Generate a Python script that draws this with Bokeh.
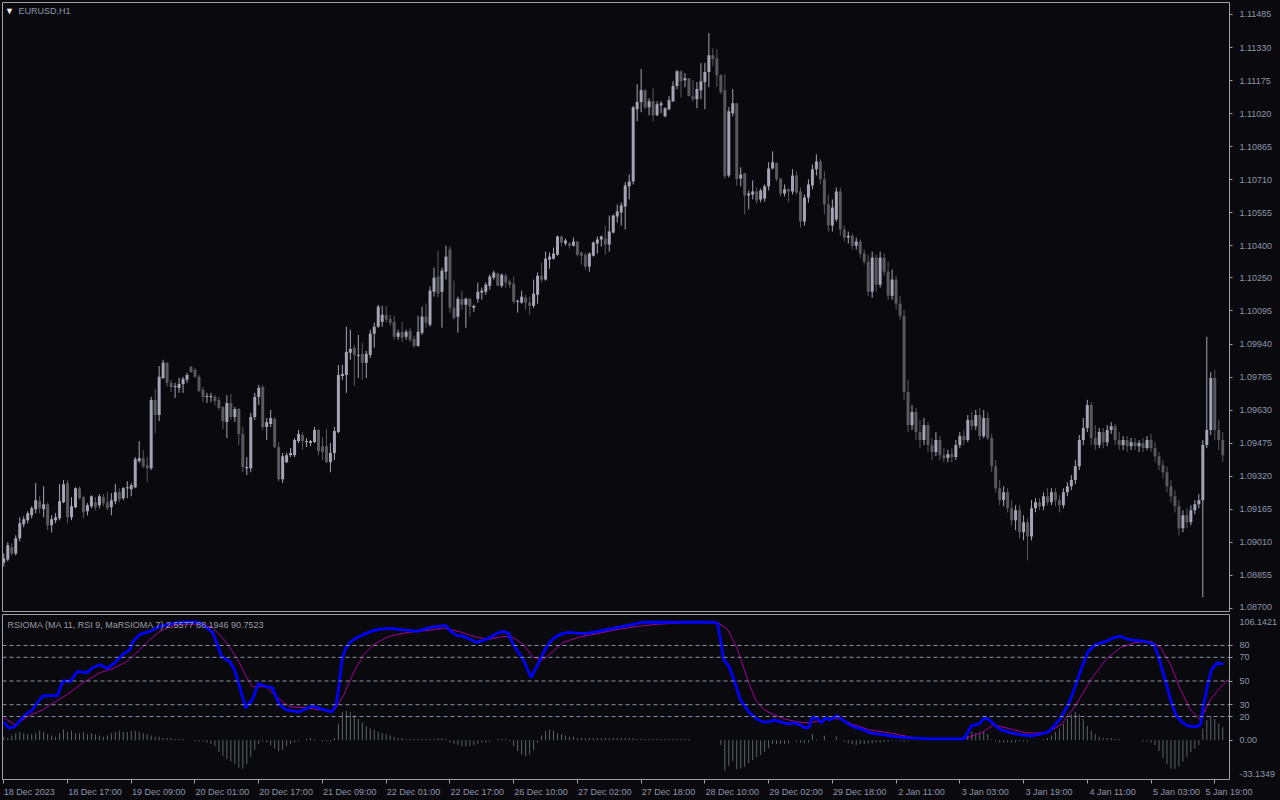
from bokeh.plotting import figure
from bokeh.models import (ColumnDataSource, FixedTicker, Span, Label, Range1d, PrintfTickFormatter)
from bokeh.layouts import column
from bokeh.embed import file_html
from bokeh.resources import INLINE

# ---------------- data ----------------
date_labels = ["18 Dec 2023", "18 Dec 17:00", "19 Dec 09:00", "20 Dec 01:00", "20 Dec 17:00",
               "21 Dec 09:00", "22 Dec 01:00", "22 Dec 17:00", "26 Dec 10:00", "27 Dec 02:00",
               "27 Dec 18:00", "28 Dec 10:00", "29 Dec 02:00", "29 Dec 18:00", "2 Jan 11:00",
               "3 Jan 03:00", "3 Jan 19:00", "4 Jan 11:00", "5 Jan 03:00", "5 Jan 19:00"]
date_label_bars = [0, 16, 32, 48, 64, 80, 96, 112, 128, 144, 160, 176, 192, 208, 224,
                   240, 256, 272, 288, 304]

price_ticks = [1.11485, 1.11330, 1.11175, 1.11020, 1.10865, 1.10710, 1.10555, 1.10400,
               1.10250, 1.10095, 1.09940, 1.09785, 1.09630, 1.09475, 1.09320, 1.09165,
               1.09010, 1.08855, 1.08700]

opens = [1.08916, 1.08930, 1.08987, 1.08958, 1.09029, 1.09095, 1.09114, 1.09137, 1.09165, 1.09203,
         1.09165, 1.09189, 1.09090, 1.09114, 1.09123, 1.09198, 1.09288, 1.09128, 1.09175, 1.09264,
         1.09222, 1.09156, 1.09179, 1.09198, 1.09184, 1.09222, 1.09198, 1.09175, 1.09203, 1.09245,
         1.09217, 1.09264, 1.09259, 1.09269, 1.09391, 1.09405, 1.09372, 1.09358, 1.09678, 1.09607,
         1.09781, 1.09852, 1.09758, 1.09739, 1.09734, 1.09753, 1.09772, 1.09833, 1.09819, 1.09786,
         1.09725, 1.09692, 1.09692, 1.09692, 1.09678, 1.09645, 1.09574, 1.09664, 1.09598, 1.09635,
         1.09518, 1.09358, 1.09358, 1.09598, 1.09692, 1.09739, 1.09551, 1.09565, 1.09588, 1.09457,
         1.09306, 1.09386, 1.09419, 1.09419, 1.09485, 1.09513, 1.09480, 1.09476, 1.09480, 1.09537,
         1.09461, 1.09461, 1.09386, 1.09429, 1.09527, 1.09790, 1.09795, 1.09899, 1.09922, 1.09884,
         1.09894, 1.09852, 1.09889, 1.09988, 1.10021, 1.10044, 1.10077, 1.10058, 1.10044, 1.09974,
         1.09997, 1.09974, 1.10002, 1.09964, 1.09931, 1.09993, 1.10068, 1.10030, 1.10185, 1.10256,
         1.10185, 1.10279, 1.10383, 1.10110, 1.10068, 1.10152, 1.10124, 1.10152, 1.10110, 1.10152,
         1.10181, 1.10185, 1.10213, 1.10251, 1.10270, 1.10213, 1.10260, 1.10232, 1.10223, 1.10138,
         1.10134, 1.10157, 1.10134, 1.10119, 1.10171, 1.10260, 1.10242, 1.10336, 1.10340, 1.10359,
         1.10444, 1.10411, 1.10411, 1.10401, 1.10420, 1.10369, 1.10359, 1.10303, 1.10354, 1.10411,
         1.10430, 1.10434, 1.10406, 1.10463, 1.10538, 1.10557, 1.10585, 1.10679, 1.10702, 1.11041,
         1.11074, 1.11130, 1.11050, 1.11078, 1.11012, 1.11059, 1.11008, 1.11041, 1.11078, 1.11149,
         1.11219, 1.11177, 1.11186, 1.11102, 1.11088, 1.11130, 1.11168, 1.11215, 1.11294, 1.11280,
         1.11200, 1.11130, 1.10730, 1.11022, 1.11069, 1.10716, 1.10740, 1.10636, 1.10641, 1.10655,
         1.10618, 1.10622, 1.10679, 1.10763, 1.10787, 1.10716, 1.10646, 1.10665, 1.10655, 1.10730,
         1.10655, 1.10514, 1.10627, 1.10683, 1.10759, 1.10796, 1.10712, 1.10594, 1.10495, 1.10524,
         1.10655, 1.10477, 1.10439, 1.10448, 1.10401, 1.10420, 1.10364, 1.10326, 1.10185, 1.10345,
         1.10218, 1.10345, 1.10279, 1.10166, 1.10242, 1.10129, 1.10072, 1.09715, 1.09560, 1.09621,
         1.09527, 1.09490, 1.09560, 1.09466, 1.09433, 1.09490, 1.09419, 1.09405, 1.09424, 1.09410,
         1.09466, 1.09508, 1.09490, 1.09584, 1.09555, 1.09607, 1.09508, 1.09593, 1.09499, 1.09367,
         1.09264, 1.09208, 1.09245, 1.09170, 1.09114, 1.09161, 1.09057, 1.09104, 1.09038, 1.09170,
         1.09198, 1.09179, 1.09226, 1.09198, 1.09245, 1.09208, 1.09184, 1.09245, 1.09273, 1.09302,
         1.09367, 1.09490, 1.09546, 1.09654, 1.09499, 1.09466, 1.09527, 1.09480, 1.09537, 1.09555,
         1.09490, 1.09466, 1.09490, 1.09461, 1.09480, 1.09461, 1.09476, 1.09452, 1.09490, 1.09452,
         1.09414, 1.09372, 1.09339, 1.09273, 1.09226, 1.09179, 1.09076, 1.09137, 1.09104, 1.09161,
         1.09189, 1.09208, 1.09466, 1.09537, 1.09781, 1.09537, 1.09490]
highs = [1.08958, 1.09010, 1.09005, 1.09043, 1.09128, 1.09132, 1.09156, 1.09179, 1.09288, 1.09226,
         1.09273, 1.09198, 1.09137, 1.09147, 1.09283, 1.09302, 1.09302, 1.09222, 1.09269, 1.09273,
         1.09226, 1.09194, 1.09231, 1.09222, 1.09236, 1.09236, 1.09245, 1.09240, 1.09283, 1.09264,
         1.09269, 1.09297, 1.09288, 1.09410, 1.09485, 1.09443, 1.09410, 1.09692, 1.09729, 1.09837,
         1.09866, 1.09856, 1.09772, 1.09758, 1.09781, 1.09786, 1.09805, 1.09837, 1.09828, 1.09795,
         1.09739, 1.09711, 1.09711, 1.09701, 1.09692, 1.09649, 1.09701, 1.09706, 1.09645, 1.09640,
         1.09551, 1.09410, 1.09617, 1.09711, 1.09748, 1.09748, 1.09593, 1.09631, 1.09598, 1.09480,
         1.09429, 1.09429, 1.09452, 1.09499, 1.09537, 1.09527, 1.09499, 1.09490, 1.09551, 1.09541,
         1.09504, 1.09541, 1.09476, 1.09551, 1.09842, 1.09842, 1.10021, 1.10007, 1.09936, 1.09983,
         1.09946, 1.09908, 1.10007, 1.10040, 1.10124, 1.10119, 1.10119, 1.10077, 1.10072, 1.10007,
         1.10044, 1.10007, 1.10016, 1.09978, 1.10072, 1.10115, 1.10129, 1.10209, 1.10298, 1.10378,
         1.10298, 1.10401, 1.10397, 1.10237, 1.10162, 1.10190, 1.10157, 1.10157, 1.10124, 1.10228,
         1.10204, 1.10228, 1.10265, 1.10284, 1.10275, 1.10270, 1.10270, 1.10242, 1.10256, 1.10148,
         1.10190, 1.10171, 1.10162, 1.10242, 1.10275, 1.10322, 1.10373, 1.10369, 1.10392, 1.10448,
         1.10448, 1.10434, 1.10416, 1.10439, 1.10420, 1.10373, 1.10369, 1.10369, 1.10420, 1.10444,
         1.10448, 1.10495, 1.10542, 1.10547, 1.10594, 1.10604, 1.10698, 1.10735, 1.11055, 1.11158,
         1.11229, 1.11135, 1.11092, 1.11139, 1.11078, 1.11078, 1.11050, 1.11102, 1.11172, 1.11224,
         1.11224, 1.11210, 1.11186, 1.11177, 1.11168, 1.11257, 1.11257, 1.11398, 1.11327, 1.11323,
         1.11205, 1.11205, 1.11050, 1.11135, 1.11069, 1.10768, 1.10740, 1.10660, 1.10707, 1.10674,
         1.10669, 1.10688, 1.10792, 1.10843, 1.10792, 1.10716, 1.10688, 1.10669, 1.10759, 1.10749,
         1.10674, 1.10641, 1.10712, 1.10782, 1.10829, 1.10806, 1.10749, 1.10641, 1.10618, 1.10674,
         1.10674, 1.10495, 1.10467, 1.10458, 1.10439, 1.10430, 1.10383, 1.10359, 1.10373, 1.10359,
         1.10373, 1.10364, 1.10326, 1.10289, 1.10260, 1.10166, 1.10101, 1.09772, 1.09654, 1.09640,
         1.09584, 1.09593, 1.09574, 1.09499, 1.09527, 1.09508, 1.09452, 1.09443, 1.09452, 1.09490,
         1.09527, 1.09537, 1.09607, 1.09621, 1.09631, 1.09640, 1.09631, 1.09621, 1.09518, 1.09396,
         1.09302, 1.09273, 1.09264, 1.09208, 1.09184, 1.09184, 1.09137, 1.09123, 1.09208, 1.09217,
         1.09217, 1.09245, 1.09264, 1.09264, 1.09264, 1.09231, 1.09264, 1.09292, 1.09325, 1.09396,
         1.09513, 1.09593, 1.09678, 1.09668, 1.09560, 1.09546, 1.09546, 1.09560, 1.09574, 1.09565,
         1.09527, 1.09508, 1.09508, 1.09499, 1.09499, 1.09490, 1.09499, 1.09508, 1.09518, 1.09480,
         1.09433, 1.09396, 1.09367, 1.09302, 1.09255, 1.09208, 1.09161, 1.09170, 1.09184, 1.09208,
         1.09236, 1.09490, 1.09974, 1.09809, 1.09819, 1.09584, 1.09527]
lows = [1.08897, 1.08921, 1.08949, 1.08949, 1.09015, 1.09081, 1.09100, 1.09123, 1.09147, 1.09147,
        1.09128, 1.09067, 1.09057, 1.09100, 1.09114, 1.09194, 1.09100, 1.09114, 1.09170, 1.09212,
        1.09123, 1.09137, 1.09170, 1.09161, 1.09170, 1.09179, 1.09161, 1.09137, 1.09189, 1.09198,
        1.09208, 1.09217, 1.09226, 1.09264, 1.09382, 1.09358, 1.09292, 1.09349, 1.09522, 1.09579,
        1.09776, 1.09739, 1.09715, 1.09687, 1.09711, 1.09711, 1.09758, 1.09805, 1.09781, 1.09715,
        1.09668, 1.09664, 1.09668, 1.09654, 1.09631, 1.09541, 1.09499, 1.09584, 1.09574, 1.09466,
        1.09339, 1.09325, 1.09339, 1.09584, 1.09654, 1.09537, 1.09490, 1.09551, 1.09452, 1.09297,
        1.09288, 1.09382, 1.09410, 1.09410, 1.09476, 1.09443, 1.09457, 1.09461, 1.09476, 1.09419,
        1.09396, 1.09382, 1.09339, 1.09396, 1.09522, 1.09772, 1.09711, 1.09866, 1.09743, 1.09781,
        1.09772, 1.09781, 1.09875, 1.09922, 1.10016, 1.10021, 1.10040, 1.10025, 1.09960, 1.09960,
        1.09950, 1.09960, 1.09950, 1.09922, 1.09927, 1.09983, 1.10016, 1.10021, 1.10162, 1.10157,
        1.10016, 1.10242, 1.10087, 1.10054, 1.09993, 1.10101, 1.10016, 1.10068, 1.10091, 1.10134,
        1.10148, 1.10171, 1.10195, 1.10242, 1.10213, 1.10204, 1.10204, 1.10204, 1.10129, 1.10087,
        1.10129, 1.10101, 1.10077, 1.10110, 1.10129, 1.10228, 1.10237, 1.10293, 1.10336, 1.10354,
        1.10397, 1.10401, 1.10387, 1.10397, 1.10350, 1.10312, 1.10289, 1.10279, 1.10350, 1.10364,
        1.10397, 1.10359, 1.10373, 1.10458, 1.10510, 1.10495, 1.10477, 1.10618, 1.10688, 1.10984,
        1.11027, 1.11041, 1.11012, 1.10984, 1.11008, 1.11022, 1.11003, 1.11036, 1.11074, 1.11135,
        1.11097, 1.11144, 1.11102, 1.11078, 1.11045, 1.11088, 1.11041, 1.11144, 1.11243, 1.11144,
        1.11111, 1.10716, 1.10721, 1.11008, 1.10683, 1.10679, 1.10547, 1.10571, 1.10618, 1.10599,
        1.10604, 1.10608, 1.10660, 1.10759, 1.10702, 1.10632, 1.10632, 1.10604, 1.10641, 1.10641,
        1.10486, 1.10495, 1.10603, 1.10665, 1.10730, 1.10688, 1.10547, 1.10467, 1.10467, 1.10514,
        1.10448, 1.10420, 1.10411, 1.10383, 1.10383, 1.10345, 1.10312, 1.10166, 1.10157, 1.10185,
        1.10204, 1.10260, 1.10148, 1.10148, 1.10101, 1.10054, 1.09678, 1.09527, 1.09537, 1.09490,
        1.09452, 1.09466, 1.09433, 1.09396, 1.09414, 1.09396, 1.09386, 1.09386, 1.09386, 1.09396,
        1.09452, 1.09466, 1.09480, 1.09537, 1.09537, 1.09490, 1.09499, 1.09490, 1.09339, 1.09245,
        1.09184, 1.09179, 1.09151, 1.09090, 1.09067, 1.09029, 1.09020, 1.08926, 1.09020, 1.09151,
        1.09161, 1.09161, 1.09184, 1.09184, 1.09179, 1.09151, 1.09170, 1.09226, 1.09255, 1.09283,
        1.09349, 1.09466, 1.09527, 1.09466, 1.09443, 1.09452, 1.09452, 1.09461, 1.09518, 1.09466,
        1.09443, 1.09443, 1.09433, 1.09443, 1.09443, 1.09433, 1.09433, 1.09443, 1.09433, 1.09386,
        1.09349, 1.09311, 1.09245, 1.09198, 1.09151, 1.09043, 1.09057, 1.09076, 1.09090, 1.09142,
        1.09170, 1.08752, 1.09452, 1.09513, 1.09490, 1.09443, 1.09386]
closes = [1.08935, 1.08996, 1.08958, 1.09029, 1.09100, 1.09118, 1.09147, 1.09170, 1.09208, 1.09170,
          1.09189, 1.09090, 1.09118, 1.09128, 1.09203, 1.09283, 1.09128, 1.09179, 1.09264, 1.09217,
          1.09151, 1.09184, 1.09226, 1.09175, 1.09226, 1.09194, 1.09170, 1.09208, 1.09245, 1.09212,
          1.09264, 1.09269, 1.09278, 1.09400, 1.09405, 1.09367, 1.09358, 1.09678, 1.09607, 1.09786,
          1.09852, 1.09758, 1.09739, 1.09743, 1.09753, 1.09776, 1.09795, 1.09809, 1.09786, 1.09720,
          1.09692, 1.09696, 1.09696, 1.09673, 1.09640, 1.09579, 1.09664, 1.09598, 1.09635, 1.09518,
          1.09363, 1.09363, 1.09598, 1.09692, 1.09734, 1.09551, 1.09574, 1.09593, 1.09457, 1.09306,
          1.09414, 1.09419, 1.09429, 1.09490, 1.09518, 1.09485, 1.09485, 1.09485, 1.09537, 1.09438,
          1.09433, 1.09386, 1.09429, 1.09532, 1.09795, 1.09800, 1.09903, 1.09917, 1.09889, 1.09889,
          1.09852, 1.09894, 1.09988, 1.10021, 1.10115, 1.10077, 1.10054, 1.10040, 1.09974, 1.09993,
          1.09969, 1.09997, 1.09960, 1.09931, 1.09997, 1.10068, 1.10040, 1.10190, 1.10251, 1.10176,
          1.10284, 1.10350, 1.10110, 1.10063, 1.10152, 1.10124, 1.10152, 1.10115, 1.10119, 1.10185,
          1.10190, 1.10218, 1.10256, 1.10275, 1.10213, 1.10265, 1.10228, 1.10218, 1.10138, 1.10143,
          1.10162, 1.10134, 1.10119, 1.10176, 1.10260, 1.10242, 1.10340, 1.10350, 1.10364, 1.10444,
          1.10416, 1.10425, 1.10401, 1.10420, 1.10359, 1.10354, 1.10303, 1.10364, 1.10416, 1.10430,
          1.10444, 1.10406, 1.10467, 1.10542, 1.10561, 1.10589, 1.10683, 1.10702, 1.11050, 1.11074,
          1.11130, 1.11050, 1.11078, 1.11012, 1.11064, 1.11069, 1.11045, 1.11083, 1.11149, 1.11219,
          1.11172, 1.11186, 1.11102, 1.11088, 1.11135, 1.11172, 1.11215, 1.11294, 1.11276, 1.11200,
          1.11121, 1.10726, 1.11031, 1.11069, 1.10712, 1.10735, 1.10636, 1.10646, 1.10655, 1.10613,
          1.10660, 1.10679, 1.10763, 1.10792, 1.10712, 1.10646, 1.10665, 1.10655, 1.10730, 1.10650,
          1.10514, 1.10627, 1.10688, 1.10759, 1.10796, 1.10712, 1.10594, 1.10495, 1.10580, 1.10655,
          1.10477, 1.10439, 1.10448, 1.10401, 1.10420, 1.10364, 1.10326, 1.10185, 1.10345, 1.10218,
          1.10345, 1.10279, 1.10166, 1.10242, 1.10129, 1.10072, 1.09715, 1.09560, 1.09621, 1.09527,
          1.09490, 1.09560, 1.09466, 1.09433, 1.09490, 1.09419, 1.09405, 1.09424, 1.09410, 1.09466,
          1.09508, 1.09490, 1.09584, 1.09555, 1.09607, 1.09508, 1.09593, 1.09499, 1.09367, 1.09264,
          1.09208, 1.09245, 1.09170, 1.09114, 1.09161, 1.09057, 1.09104, 1.09038, 1.09170, 1.09198,
          1.09179, 1.09226, 1.09198, 1.09245, 1.09208, 1.09184, 1.09245, 1.09273, 1.09302, 1.09367,
          1.09490, 1.09546, 1.09654, 1.09499, 1.09466, 1.09527, 1.09480, 1.09537, 1.09555, 1.09490,
          1.09466, 1.09490, 1.09461, 1.09480, 1.09461, 1.09476, 1.09452, 1.09490, 1.09452, 1.09414,
          1.09372, 1.09339, 1.09273, 1.09226, 1.09179, 1.09076, 1.09137, 1.09104, 1.09161, 1.09189,
          1.09208, 1.09466, 1.09537, 1.09781, 1.09537, 1.09490, 1.09419]

# RSIOMA (blue) and its MA signal (magenta), read at bar positions
rsioma_bar = [0, 1.2, 2.7, 4.2, 5.7, 7.2, 8.4, 9.9, 11.7, 13.4,
              14.9, 16.7, 18.4, 20.9, 22.4, 24.2, 25.9, 27.9, 29.9, 31.7,
              32.4, 34.2, 36.7, 39.2, 42.4, 45.9, 48.4, 49.9, 52.4, 54.7,
              56.7, 57.9, 59.2, 60.7, 62.4, 63.9, 65.9, 67.4, 69.2, 70.9,
              74.2, 77.4, 80.4, 82.4, 83.4, 84.2, 84.9, 85.9, 87.2, 88.7,
              90.4, 92.2, 94.2, 96.7, 99.2, 101.7, 103.7, 105.4, 107.2, 109.2,
              110.9, 112.2, 113.7, 115.4, 117.2, 118.7, 120.4, 122.2, 123.7, 125.4,
              126.7, 127.9, 129.2, 130.4, 131.7, 132.4, 133.4, 134.7, 135.9, 137.2,
              138.7, 140.4, 142.2, 144.2, 146.2, 147.9, 150.4, 152.9, 155.4, 157.9,
              160.4, 169.2, 177.9, 179.2, 179.9, 180.7, 182.2, 183.7, 184.9, 187.2,
              188.7, 190.4, 192.2, 193.4, 194.9, 196.7, 198.4, 199.9, 201.2, 202.2,
              202.9, 204.2, 205.2, 206.2, 207.4, 209.2, 210.9, 212.4, 214.2, 215.9,
              217.4, 220.9, 224.2, 227.4, 232.4, 240.9, 241.7, 242.9, 244.9, 246.2,
              247.4, 249.2, 250.4, 252.9, 255.4, 257.9, 260.4, 262.2, 263.7, 265.4,
              267.2, 268.7, 270.4, 272.2, 274.2, 276.7, 278.7, 280.4, 282.2, 284.2,
              286.7, 288.7, 289.7, 291.2, 292.9, 294.2, 295.7, 297.2, 299.2, 300.4,
              301.2, 302.2, 303.2, 304.7, 306.2]
rsioma_val = [15.5, 10.4, 11.3, 17.2, 22.3, 25.7, 31.7, 37.6, 37.6, 37.6,
              50.3, 49.5, 58.0, 57.1, 61.4, 63.9, 60.5, 65.6, 72.4, 76.7,
              83.4, 89.4, 91.9, 96.2, 98.7, 99.6, 99.6, 97.9, 91.1, 70.7,
              66.5, 59.7, 45.2, 27.4, 34.2, 47.8, 45.2, 44.4, 30.0, 25.7,
              24.0, 29.0, 25.7, 24.0, 30.0, 46.9, 68.2, 78.4, 83.4, 86.8,
              89.4, 91.9, 93.6, 94.5, 93.6, 92.8, 91.9, 93.6, 95.3, 96.2,
              97.0, 91.9, 88.5, 87.7, 85.1, 82.6, 84.3, 86.8, 90.2, 91.9,
              90.2, 80.9, 74.1, 68.2, 58.0, 52.9, 59.7, 68.2, 76.7, 83.4,
              87.7, 90.2, 91.1, 90.2, 90.2, 91.1, 92.8, 94.5, 96.2, 97.9,
              99.6, 99.6, 99.6, 98.7, 85.1, 68.2, 61.4, 46.9, 34.2, 23.2,
              18.9, 15.5, 15.5, 17.2, 15.5, 13.8, 14.7, 13.0, 10.4, 11.3,
              18.9, 18.9, 14.7, 18.9, 17.2, 20.6, 16.4, 13.0, 10.4, 8.7,
              6.2, 4.5, 2.8, 2.0, 1.1, 1.1, 4.5, 12.1, 13.8, 18.9,
              17.2, 11.3, 8.7, 6.2, 4.5, 3.7, 5.3, 7.0, 12.1, 18.9,
              30.0, 42.7, 59.7, 75.0, 80.9, 83.4, 86.8, 87.7, 85.1, 84.3,
              83.4, 80.9, 72.4, 55.4, 34.2, 21.5, 15.5, 12.1, 11.3, 13.0,
              30.0, 46.9, 59.7, 65.6, 63.9]
signal_bar = [0, 2.9, 6.7, 9.9, 11.7, 15.9, 19.9, 24.2, 27.4, 30.9,
              34.2, 36.7, 39.2, 41.7, 44.9, 49.2, 52.4, 55.9, 58.7, 60.9,
              62.4, 65.9, 68.4, 71.7, 75.9, 79.2, 82.9, 85.4, 87.9, 90.4,
              92.9, 96.7, 101.7, 106.7, 110.4, 114.2, 117.9, 121.7, 125.4, 127.9,
              130.4, 132.9, 135.4, 137.9, 140.4, 144.2, 149.2, 154.2, 159.2, 164.2,
              171.7, 179.2, 181.7, 184.2, 186.7, 188.7, 190.9, 193.4, 195.9, 199.2,
              202.4, 207.4, 209.9, 213.4, 217.4, 222.4, 227.4, 230.9, 240.9, 242.4,
              245.9, 248.4, 251.7, 256.7, 261.7, 265.4, 269.2, 272.9, 276.7, 280.4,
              284.2, 287.9, 290.4, 292.9, 295.4, 297.9, 300.4, 302.9, 305.4, 307.2]
signal_val = [18.9, 13.0, 21.5, 25.7, 30.0, 38.5, 48.6, 57.1, 60.5, 66.5,
              76.7, 85.1, 91.9, 96.2, 97.9, 97.9, 95.3, 82.6, 68.2, 53.7,
              45.2, 45.2, 36.8, 28.3, 27.4, 25.7, 24.9, 38.5, 58.0, 72.4,
              80.9, 87.7, 91.1, 92.8, 94.5, 91.9, 87.7, 85.1, 87.7, 86.8,
              80.9, 69.9, 68.2, 75.0, 82.6, 86.8, 90.2, 93.6, 96.2, 97.9,
              99.6, 99.6, 93.6, 76.7, 51.2, 34.2, 25.7, 21.5, 18.1, 15.5,
              14.7, 18.1, 18.1, 13.0, 8.7, 6.2, 2.8, 1.1, 1.1, 2.8,
              7.0, 13.0, 10.4, 6.2, 6.2, 13.0, 30.0, 51.2, 68.2, 78.4,
              82.6, 83.4, 78.4, 63.9, 42.7, 25.7, 17.2, 34.2, 44.4, 51.2]
# histogram, one value per bar
hist = [3, 2, 4, 6, 7, 6, 5,
        5, 6, 8, 7, 5, 4, 3, 6,
        9, 7, 8, 6, 6, 7, 5, 6,
        5, 4, 3, 4, 6, 7, 8, 7, 7,
        8, 8, 7, 6, 5, 4, 3, 3, 2,
        2, 2, 1, 1, 1, 0, 0, -1, -1, -1,
        -2, -3, -5, -10, -13,
        -16, -18, -20, -23, -24, -20, -14,
        -8, -3, -1, -2, -4, -7,
        -9, -8, -5, -3, -2, -1, 0, 1,
        2, 1, 0, -1, -1, -1, 2,
        14, 24, 25, 24, 21, 18, 15,
        12, 10, 9, 7, 6, 5, 4, 3, 2, 2,
        1, 1, 1, 1, 1, 1, 1, 1, 2, 2,
        1, -2, -3, -4, -5, -5, -5, -4, -3, -2,
        -2, -1, 0, 1, 1, 1, -1,
        -5, -9, -12, -13, -12, -8, -2,
        4, 8, 9, 8, 6, 5, 4,
        3, 3, 2, 2, 2, 2, 2, 2, 2,
        2, 2, 2, 2, 2, 2, 2, 2, 1, 1,
        1, 1, 1, 1, 1, 1, 1, 1, 1, 1, 1, 1, 0, 0, 0, 0, 0, 0, 0,
        -4.0, -25.8, -21.6, -17.3, -24.4, -23.8, -22.4, -19.5, -16.7, -14.4,
        -12.5, -9.7, -6.8, -3.1, -3.1, -3.1, -3.1, -2.5, -0.3, -1.2,
        -2.0, -2.5, -2.0, 5.3, 0.8, 0.3, 3.7, -0.3, -0.3, 3.1,
        -0.3, -1.2, -2.5, -3.1, -4.0, -3.1, -3.1, -2.5, -2.5, -2.0,
        -2.0, -1.4, -1.2, -0.6, -0.3, -0.8, -1.2, -0.8, -0.3, -0.3,
        -0.2, -0.2,
        0, 0, 0, 0, 0, 0, 0, 0, 0, 0,
        3.7, 7.3, 5.9, 6.5, 7.3, 5.3, 0.8,
        -1, -2, -2, -2, -2, -2, -1, -1, -1, 0, 0, 0, 1, 2,
        4, 7, 10, 14, 18, 22, 24, 22, 18, 12,
        8, 5, 3, 2, 2, 2, 1, 1, 0, 0,
        0, 0, 0, -1, -1, -2, -4, -9,
        -15, -20, -24, -24, -22, -18, -14, -10, -7, -4,
        10, 17, 20, 18, 14, 11]

level_values = [80, 70, 50, 30, 20]
ind_label_vals = [99.4, 80, 70, 50, 30, 20, 0, -28.1]
ind_label_text = ["106.1421", "80", "70", "50", "30", "20", "0.00", "-33.1349"]
ind_tick_vals = [80, 70, 50, 30, 20, 0]

# ---------------- style ----------------
BG = "#0a0a0e"
FRAME = "#a0a0a6"
TXT = "#8a97ab"
UP = "#a4a4b4"
DOWN = "#58585d"
FONT = "Liberation Sans"
X_END = 307.7

n = min(len(opens), len(highs), len(lows), len(closes))
idx = list(range(n))
col = [UP if closes[i] >= opens[i] else DOWN for i in idx]
src = ColumnDataSource(dict(x=idx, h=highs[:n], l=lows[:n],
                            top=[max(opens[i], closes[i]) for i in idx],
                            bot=[min(opens[i], closes[i]) for i in idx], col=col))

xr = Range1d(-0.325, X_END)


def style_axis(ax):
    ax.axis_line_color = None
    ax.major_tick_line_color = FRAME
    ax.major_tick_out = 0
    ax.major_tick_in = 0
    ax.minor_tick_line_color = FRAME
    ax.minor_tick_out = 3
    ax.minor_tick_in = 0
    ax.major_label_text_color = TXT
    ax.major_label_text_font = FONT
    ax.major_label_text_font_size = "9px"
    ax.major_label_standoff = 7


p1 = figure(width=1280, height=612, x_range=xr, y_range=Range1d(1.08686, 1.11541),
            output_backend="svg", toolbar_location=None, y_axis_location="right",
            x_axis_location=None, min_border_left=2, min_border_right=46,
            min_border_top=2, min_border_bottom=1,
            background_fill_color=BG, border_fill_color=BG, outline_line_color=FRAME)
p1.grid.visible = False
p1.segment(x0="x", y0="h", x1="x", y1="l", color="col", line_width=1, source=src)
p1.vbar(x="x", width=0.75, top="top", bottom="bot", fill_color="col", line_color=None, source=src)

ya = p1.yaxis[0]
main_label_pos = price_ticks[:-1] + [1.08709]
ya.ticker = FixedTicker(ticks=main_label_pos, minor_ticks=price_ticks)
ya.formatter = PrintfTickFormatter(format="%.5f")
ya.major_label_overrides = {1.08709: "1.08700"}
style_axis(ya)

p1.add_layout(Label(x=3.7, y=1.11499, text="EURUSD,H1", text_color=TXT, text_font=FONT,
                    text_font_size="9px", text_baseline="middle"))
p1.add_layout(Label(x=0.3, y=1.11499, text="\u25BC", text_color="#ffffff", text_font=FONT,
                    text_font_size="9px", text_baseline="middle"))

# ---------------- indicator ----------------
p2 = figure(width=1280, height=188, x_range=xr, y_range=Range1d(-33.1349, 106.1421),
            output_backend="svg", toolbar_location=None, y_axis_location="right",
            min_border_left=2, min_border_right=46, min_border_top=2, min_border_bottom=21,
            background_fill_color=BG, border_fill_color=BG, outline_line_color=FRAME)
p2.grid.visible = False
for lv in level_values:
    p2.add_layout(Span(location=lv, dimension="width", line_color="#8a94a6",
                       line_dash="4 3", line_width=1))
hn = min(len(hist), n)
p2.vbar(x=list(range(hn)), width=0.25, top=hist[:hn], bottom=0,
        fill_color="#5a6664", line_color=None)
p2.line(signal_bar, signal_val, line_color="#a000a0", line_width=1)
p2.line(rsioma_bar, rsioma_val, line_color="#0000ff", line_width=2.8)

ya2 = p2.yaxis[0]
ya2.ticker = FixedTicker(ticks=ind_label_vals, minor_ticks=ind_tick_vals)
ya2.major_label_overrides = dict(zip(ind_label_vals, ind_label_text))
style_axis(ya2)

# date labels start at their tick (MT4 style): label centre = tick + half text width;
# the last one is kept just inside the axis range so it is drawn
xa2 = p2.xaxis[0]
label_centers = [min(b + round(4.6 * len(t) / 8 * 8) / 8, X_END - 0.125)
                 for b, t in zip(date_label_bars, date_labels)]
xa2.ticker = FixedTicker(ticks=label_centers, minor_ticks=date_label_bars)
xa2.major_label_overrides = dict(zip(label_centers, date_labels))
style_axis(xa2)
xa2.minor_tick_out = 4
xa2.major_label_standoff = 3

p2.add_layout(Label(x=0.93, y=97.7, text="RSIOMA (MA 11, RSI 9, MaRSIOMA 7) 2.5577 88.1946 90.7523",
                    text_color="#9a9aa4", text_font=FONT, text_font_size="9px",
                    text_baseline="middle"))

layout = column(p1, p2, spacing=0, background=BG)
html = file_html(layout, INLINE, "EURUSD,H1",
                 template="{% block postamble %}<style>html,body{margin:0;padding:0;background:#0a0a0e;}</style>{% endblock %}")
open("out.html", "w").write(html)
